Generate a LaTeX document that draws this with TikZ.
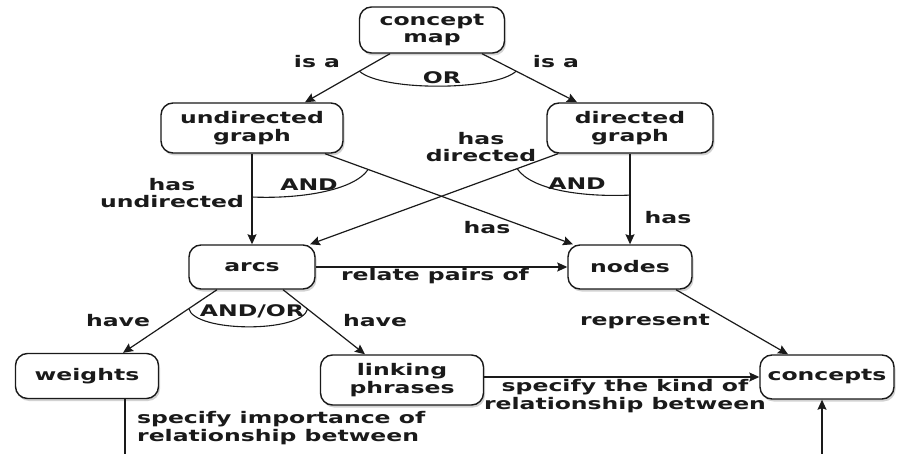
\documentclass[tikz,border=0pt]{standalone}
\usepackage{fontspec}
\setmainfont{DejaVu Sans}[FakeStretch=1.47]
\usetikzlibrary{arrows.meta,shadows}
\definecolor{ink}{HTML}{1A1A1A}
\begin{document}
\begin{tikzpicture}[x=1pt,y=-1pt,
  every node/.style={text=ink,font=\fontsize{16}{17.5}\selectfont\bfseries},
  box/.style={draw=ink,line width=1.4pt,rounded corners=12pt,fill=white,
    align=center,inner sep=0pt,
    drop shadow={opacity=0.35,shadow xshift=1.5pt,shadow yshift=-2.5pt}},
  lbl/.style={align=center,inner sep=0pt},
  conn/.style={draw=ink,line width=1.2pt},
  arr/.style={conn,-{Stealth[length=10pt,width=9pt,inset=1.5pt]}},
  junc/.style={draw=ink,line width=1.1pt}]
\useasboundingbox (0,0) rectangle (899,454);
\fill[white] (0,0) rectangle (899,454);

% boxes
\node[box,minimum width=145pt,minimum height=46pt] (cm) at (432,30) {concept\\map};
\node[box,minimum width=182pt,minimum height=50pt] (ug) at (252,128) {undirected\\graph};
\node[box,minimum width=166pt,minimum height=50pt] (dg) at (630,128) {directed\\graph};
\node[box,minimum width=126pt,minimum height=44pt] (arcs) at (252,267) {arcs};
\node[box,minimum width=124pt,minimum height=44pt] (nodes) at (630,267) {nodes};
\node[box,minimum width=143pt,minimum height=45pt] (weights) at (87,376) {weights};
\node[box,minimum width=163pt,minimum height=50pt] (linking) at (402,380) {linking\\phrases};
\node[box,minimum width=134pt,minimum height=44pt] (concepts) at (827,377) {concepts};

\coordinate (wb) at (125,454);
\coordinate (cb) at (822,454);

% connectors
\draw[arr] ([xshift=-42pt]cm.south) -- coordinate[pos=0.36] (orL) ([xshift=53pt]ug.north);
\draw[arr] ([xshift=50pt]cm.south) -- coordinate[pos=0.36] (orR) ([xshift=-53pt]dg.north);
\draw[arr] (ug.south) -- coordinate[pos=0.478] (andL1) (arcs.north);
\draw[arr] ([xshift=73pt]ug.south) -- coordinate[pos=0.174] (andL2) ([xshift=-57pt]nodes.north);
\draw[arr] ([xshift=-72pt]dg.south) -- coordinate[pos=0.165] (andR1) ([xshift=58pt]arcs.north);
\draw[arr] (dg.south) -- coordinate[pos=0.457] (andR2) (nodes.north);
\draw[arr] (arcs.east) -- (nodes.west);
\draw[arr] ([xshift=-35pt]arcs.south) -- coordinate[pos=0.3] (aoL) ([xshift=36pt]weights.north);
\draw[arr] ([xshift=31pt]arcs.south) -- coordinate[pos=0.3] (aoR) ([xshift=-37pt]linking.north);
\draw[arr] ([xshift=46pt]nodes.south) -- ([xshift=-39pt]concepts.north);
\draw[arr] ([yshift=3pt]linking.east) -- (concepts.west);
\draw[conn] ([xshift=38pt]weights.south) -- (wb);
\draw[arr] (cb) -- ([xshift=-5pt]concepts.south);

% junction arcs
\draw[junc] (orL) .. controls +(22,20) and +(-22,20) .. (orR);
\draw[junc] (andL1) .. controls +(45,2) and +(-15,22) .. (andL2);
\draw[junc] (andR1) .. controls +(15,22) and +(-45,2) .. (andR2);
\draw[junc] (aoL) .. controls +(6,24) and +(-6,24) .. (aoR);

% labels
\node[lbl] (l1) at (317,62) {is a};
\node[lbl] (l2) at (556,62) {is a};
\node[lbl] (l3) at (442,78) {OR};
\node[lbl] (l4) at (172,193) {has\\undirected};
\node[lbl] (l5) at (309,185) {AND};
\node[lbl] (l6) at (577,184) {AND};
\node[lbl] (l7) at (481,147) {has\\directed};
\node[lbl] (l8) at (487,228) {has};
\node[lbl] (l9) at (668,218) {has};
\node[lbl] (l10) at (435,276) {relate pairs of};
\node[lbl] (l11) at (252,311) {AND/OR};
\node[lbl] (l12) at (118,321) {have};
\node[lbl] (l13) at (375,321) {have};
\node[lbl] (l14) at (645,322) {represent};
\node[lbl] (l15) at (625,396) {specify the kind of\\relationship between};
\node[lbl,align=left,anchor=west] (l16) at (137,428) {specify importance of\\relationship between};
\end{tikzpicture}
\end{document}
